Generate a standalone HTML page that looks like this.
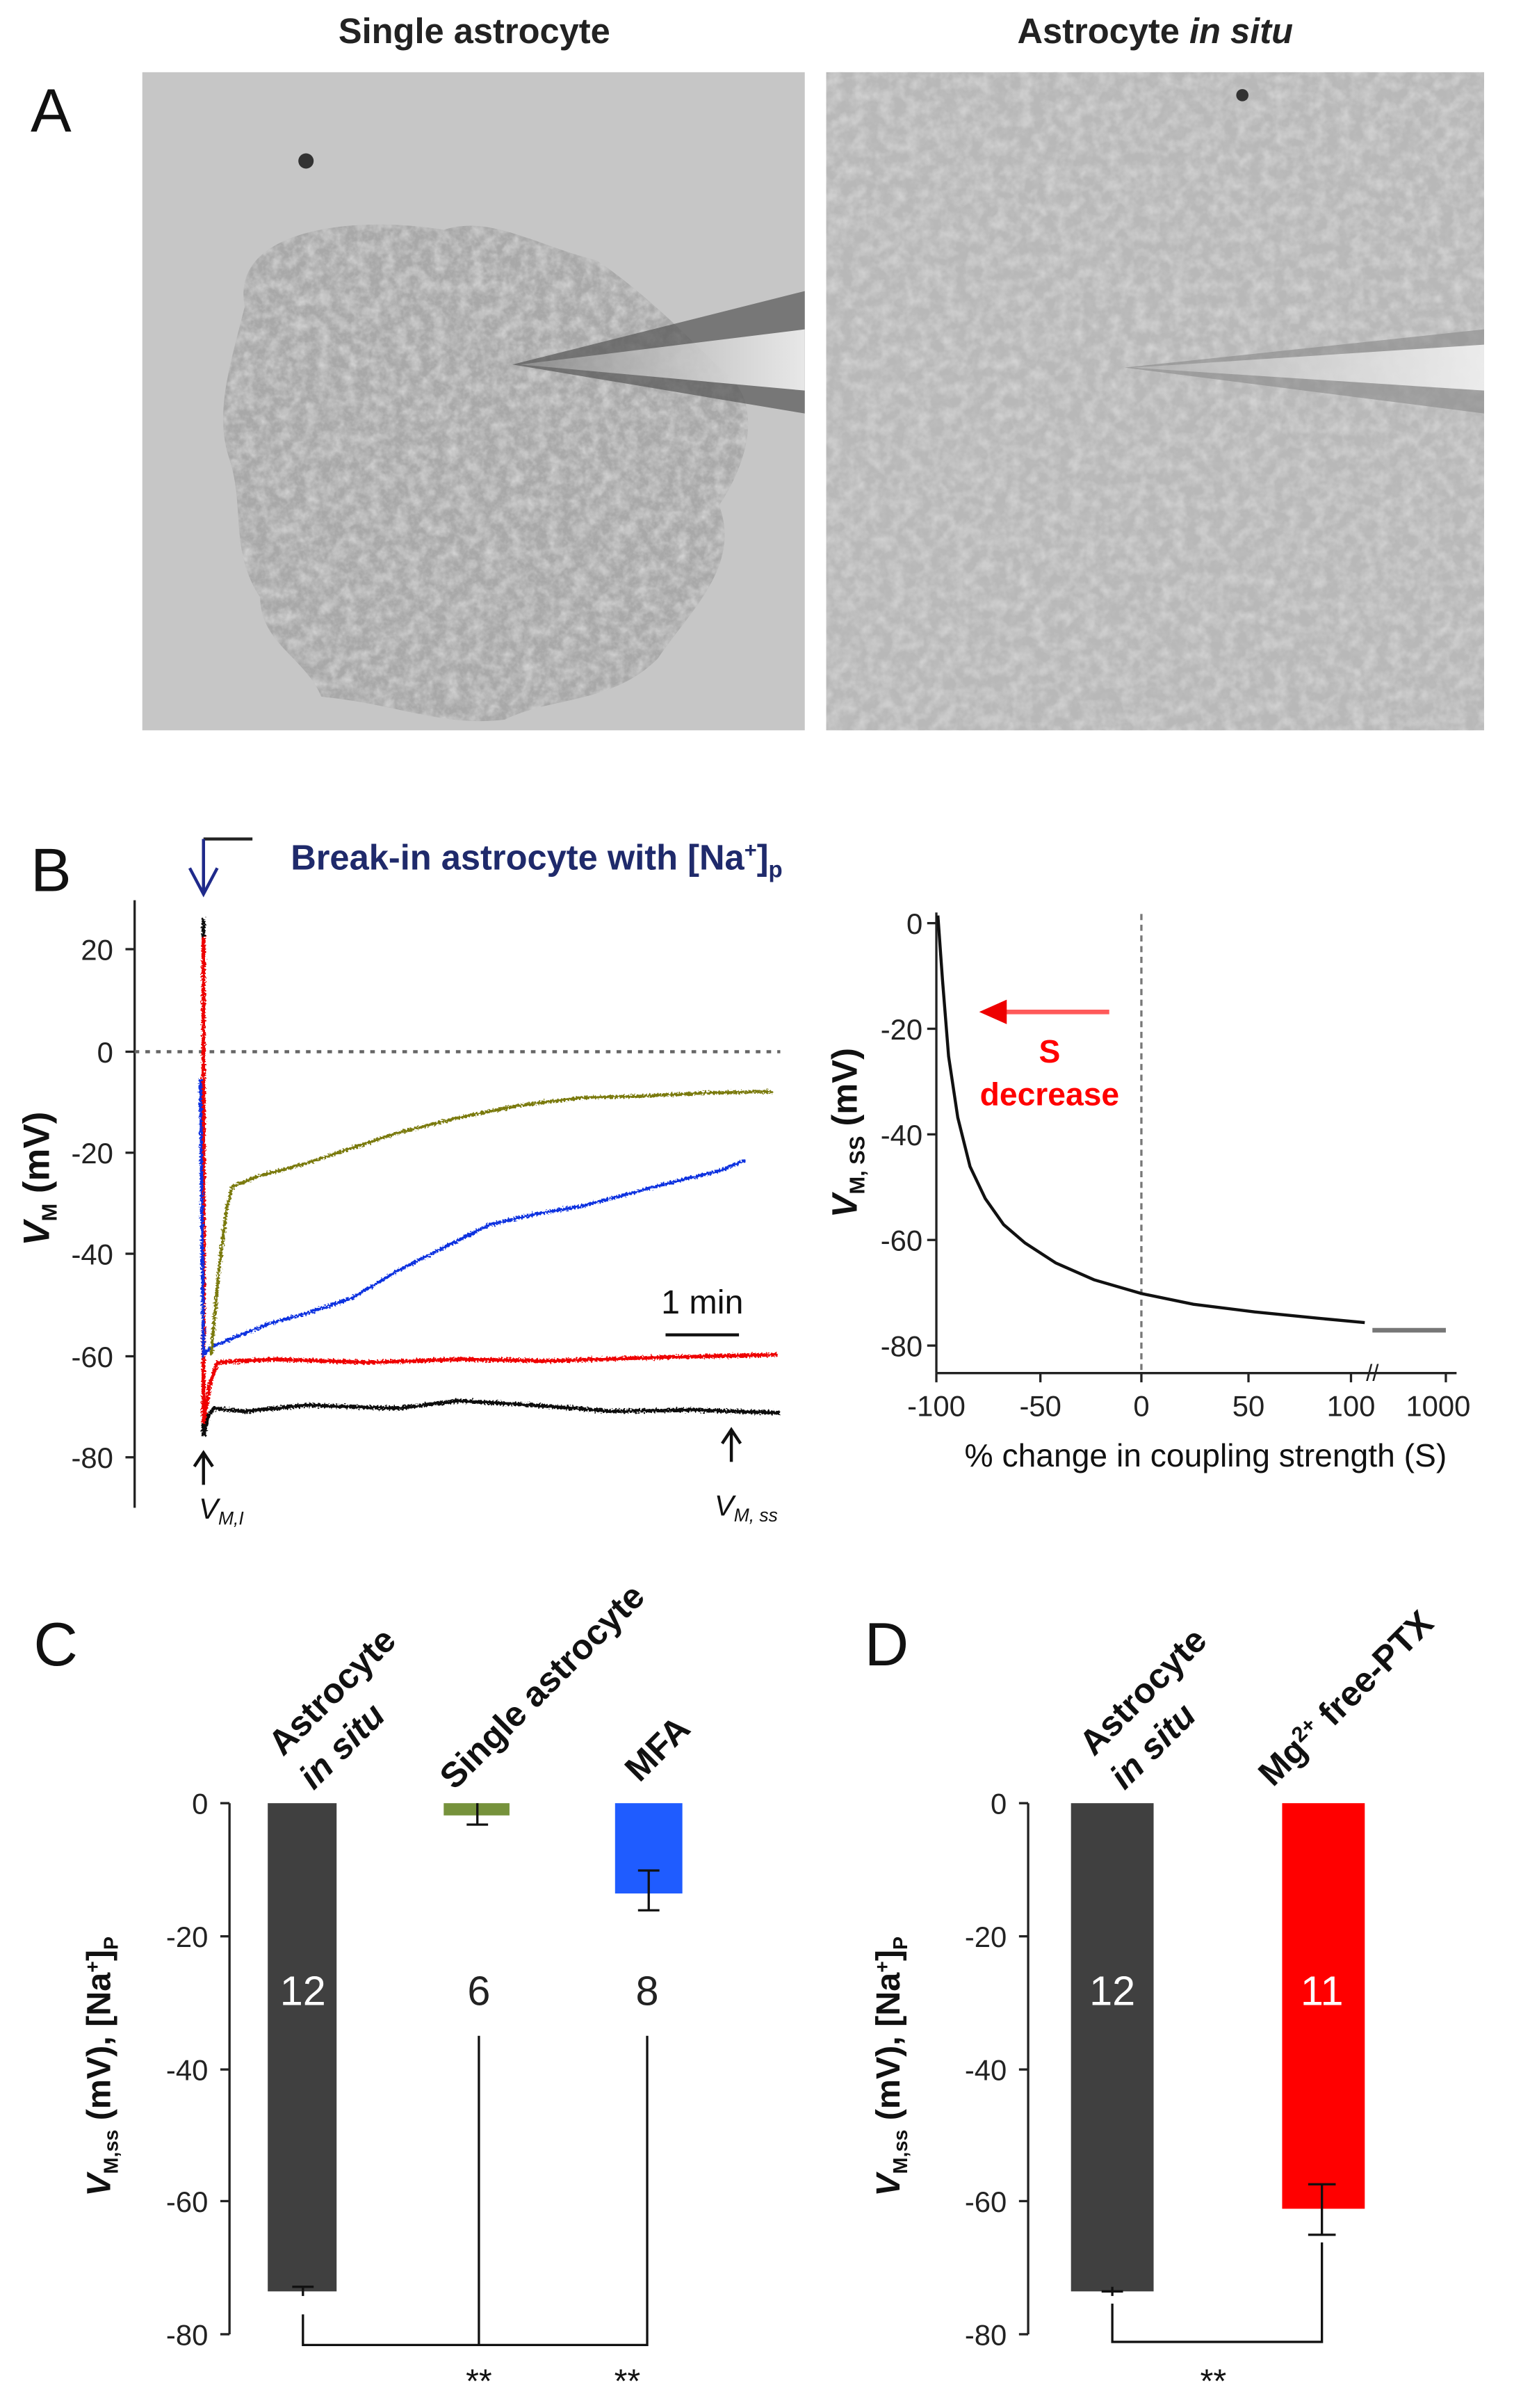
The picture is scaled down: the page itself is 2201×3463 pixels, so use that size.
<!DOCTYPE html>
<html><head><meta charset="utf-8"><style>
html,body{margin:0;padding:0;background:#fff;}
svg{display:block;}
text{font-family:"Liberation Sans",Arial,sans-serif;}
</style></head><body>
<svg width="2201" height="3463" viewBox="0 0 1000 1573" xmlns="http://www.w3.org/2000/svg">
<defs>
<filter id="tex1" x="0" y="0" width="100%" height="100%">
<feTurbulence type="fractalNoise" baseFrequency="0.35" numOctaves="2" seed="3"/>
<feColorMatrix type="matrix" values="0 0 0 0 0.5  0 0 0 0 0.5  0 0 0 0 0.5  0 0 0 -2 1.2"/>
</filter>
<filter id="tex2" x="0" y="0" width="100%" height="100%">
<feTurbulence type="fractalNoise" baseFrequency="0.12" numOctaves="3" seed="7"/>
<feColorMatrix type="matrix" values="0 0 0 0 0.95  0 0 0 0 0.95  0 0 0 0 0.95  0 0 0 1.4 -0.5"/>
</filter>
<filter id="tex3" x="0" y="0" width="100%" height="100%">
<feTurbulence type="fractalNoise" baseFrequency="0.2" numOctaves="2" seed="11"/>
<feColorMatrix type="matrix" values="0 0 0 0 0.55  0 0 0 0 0.55  0 0 0 0 0.55  0 0 0 -1.6 0.9"/>
</filter>
<filter id="jit" x="-5%" y="-5%" width="110%" height="110%">
<feTurbulence type="fractalNoise" baseFrequency="0.9 0.9" numOctaves="1" seed="5" result="n"/>
<feDisplacementMap in="SourceGraphic" in2="n" scale="4" xChannelSelector="R" yChannelSelector="G"/>
</filter>
<linearGradient id="pip" x1="0" y1="0" x2="1" y2="0">
<stop offset="0" stop-color="#fff" stop-opacity="0.2"/><stop offset="1" stop-color="#f4f4f4" stop-opacity="0.9"/></linearGradient>
<clipPath id="c1"><path d="M160,200 C150,150 230,140 290,150 C320,140 350,160 390,170 C420,190 450,220 470,240 C500,260 490,300 470,330 C485,370 450,400 430,430 C400,460 360,455 330,470 C290,475 260,460 210,455 C200,430 170,420 170,390 C150,360 160,330 150,300 C140,270 150,240 160,200Z"/></clipPath>
</defs>
<rect width="1000" height="1573" fill="#fff"/>
<!-- Panel A -->
<text x="310" y="28" font-size="23" font-weight="bold" text-anchor="middle" fill="#222">Single astrocyte</text>
<text x="755" y="28" font-size="23" font-weight="bold" text-anchor="middle" fill="#222">Astrocyte <tspan font-style="italic">in situ</tspan></text>
<text x="20" y="86" font-size="40" fill="#111">A</text>
<rect x="93" y="47" width="433" height="430" fill="#c6c6c6"/>
<g clip-path="url(#c1)"><rect x="93" y="47" width="433" height="430" fill="#a8a8a8"/><rect x="93" y="47" width="433" height="430" filter="url(#tex1)" opacity="0.8"/><rect x="93" y="47" width="433" height="430" filter="url(#tex2)" opacity="0.6"/></g>
<polygon points="335,238 526,190 526,270" fill="#555" opacity="0.7"/>
<polygon points="340,238 526,215 526,255" fill="url(#pip)"/>
<circle cx="200" cy="105" r="5" fill="#333"/>
<rect x="540" y="47" width="430" height="430" fill="#b8b8b8"/>
<rect x="540" y="47" width="430" height="430" filter="url(#tex3)" opacity="0.7"/>
<rect x="540" y="47" width="430" height="430" filter="url(#tex2)" opacity="0.5"/>
<polygon points="735,240 970,215 970,270" fill="#888" opacity="0.6"/>
<polygon points="740,240 970,225 970,255" fill="url(#pip)"/>
<circle cx="812" cy="62" r="4" fill="#333"/>
<!-- Panel B -->
<text x="20" y="582" font-size="40" fill="#111">B</text>
<g stroke="#222" stroke-width="2" fill="none">
<path d="M133,548 L165,548"/><path d="M133,548 L133,582"/>
</g>
<path d="M124,567 L133,584 L142,567" stroke="#1f2a8b" stroke-width="2" fill="none"/>
<path d="M133,548 L133,584" stroke="#1f2a8b" stroke-width="2"/>
<text x="190" y="568" font-size="23" font-weight="bold" fill="#1f2a6b">Break-in astrocyte with [Na<tspan font-size="14" dy="-8">+</tspan><tspan dy="8">]</tspan><tspan font-size="15" dy="5">p</tspan></text>
<g stroke="#222" stroke-width="1.5">
<line x1="88" y1="588" x2="88" y2="985"/>
<line x1="82" y1="620" x2="88" y2="620"/><line x1="82" y1="687" x2="88" y2="687"/><line x1="82" y1="753" x2="88" y2="753"/><line x1="82" y1="819" x2="88" y2="819"/><line x1="82" y1="886" x2="88" y2="886"/><line x1="82" y1="952" x2="88" y2="952"/>
</g>
<g font-size="19" text-anchor="end" fill="#222">
<text x="74" y="627">20</text><text x="74" y="694">0</text><text x="74" y="760">-20</text><text x="74" y="826">-40</text><text x="74" y="893">-60</text><text x="74" y="959">-80</text></g>
<text transform="translate(32,770) rotate(-90)" font-size="24" font-weight="bold" text-anchor="middle" fill="#111"><tspan font-style="italic">V</tspan><tspan font-size="14" dy="5">M</tspan><tspan dy="-5"> (mV)</tspan></text>
<line x1="88" y1="687" x2="510" y2="687" stroke="#666" stroke-width="2" stroke-dasharray="3,4"/>
<g filter="url(#jit)">
<polyline fill="none" stroke="#111" stroke-width="2.5" points="133,600 133,938 136,925 140,920 160,922 200,918 260,920 300,915 350,918 400,922 450,921 510,923"/>
<polyline fill="none" stroke="#e00" stroke-width="2.5" points="133,612 133,930 137,905 142,890 180,888 240,890 300,888 360,889 420,887 508,885"/>
<polyline fill="none" stroke="#1030e0" stroke-width="2" points="131,705 133,885 138,880 150,875 175,865 200,858 230,848 260,830 290,815 320,800 350,793 380,788 410,780 440,772 470,765 487,758"/>
<polyline fill="none" stroke="#7a7a10" stroke-width="2" points="138,885 143,830 148,790 152,775 170,768 200,760 230,750 260,740 300,730 340,722 380,717 420,716 460,714 505,713"/>
</g>
<line x1="435" y1="872" x2="483" y2="872" stroke="#111" stroke-width="2"/>
<text x="459" y="858" font-size="22" text-anchor="middle" fill="#111">1 min</text>
<g stroke="#111" stroke-width="2" fill="none">
<line x1="133" y1="950" x2="133" y2="970"/><path d="M127,958 L133,949 L139,958"/>
<line x1="478" y1="935" x2="478" y2="955"/><path d="M472,943 L478,934 L484,943"/></g>
<text x="130" y="992" font-size="19" font-style="italic" fill="#111">V<tspan font-size="12" dy="4">M,I</tspan></text>
<text x="467" y="990" font-size="19" font-style="italic" fill="#111">V<tspan font-size="12" dy="4">M, ss</tspan></text>
<!-- right plot B -->
<g stroke="#222" stroke-width="1.5">
<line x1="612" y1="596" x2="612" y2="897"/><line x1="612" y1="897" x2="952" y2="897"/>
<line x1="606" y1="603" x2="612" y2="603"/><line x1="606" y1="672" x2="612" y2="672"/><line x1="606" y1="741" x2="612" y2="741"/><line x1="606" y1="810" x2="612" y2="810"/><line x1="606" y1="879" x2="612" y2="879"/>
<line x1="612" y1="897" x2="612" y2="903"/><line x1="680" y1="897" x2="680" y2="903"/><line x1="746" y1="897" x2="746" y2="903"/><line x1="816" y1="897" x2="816" y2="903"/><line x1="883" y1="897" x2="883" y2="903"/><line x1="945" y1="897" x2="945" y2="903"/>
</g>
<g font-size="19" text-anchor="end" fill="#222">
<text x="603" y="610">0</text><text x="603" y="679">-20</text><text x="603" y="748">-40</text><text x="603" y="817">-60</text><text x="603" y="886">-80</text></g>
<g font-size="19" text-anchor="middle" fill="#222">
<text x="612" y="925">-100</text><text x="680" y="925">-50</text><text x="746" y="925">0</text><text x="816" y="925">50</text><text x="883" y="925">100</text><text x="940" y="925">1000</text></g>
<text x="897" y="902" font-size="15" fill="#222" text-anchor="middle">//</text>
<text transform="translate(560,740) rotate(-90)" font-size="23" font-weight="bold" text-anchor="middle" fill="#111"><tspan font-style="italic">V</tspan><tspan font-size="14" dy="5">M, SS</tspan><tspan dy="-5"> (mV)</tspan></text>
<text x="788" y="958" font-size="21" text-anchor="middle" fill="#111">% change in coupling strength (S)</text>
<line x1="746" y1="597" x2="746" y2="897" stroke="#777" stroke-width="1.5" stroke-dasharray="4,3"/>
<polyline fill="none" stroke="#111" stroke-width="2" points="613,598 616,640 620,690 626,730 634,762 644,783 656,800 670,812 690,825 715,836 746,845 780,852 820,857 860,861 892,864"/>
<line x1="897" y1="869" x2="945" y2="869" stroke="#777" stroke-width="3"/>
<line x1="725" y1="661" x2="655" y2="661" stroke="#ff5a5a" stroke-width="3"/>
<polygon points="640,661 658,653 658,669" fill="#e00"/>
<text x="686" y="694" font-size="21" font-weight="bold" fill="#f00" text-anchor="middle">S</text>
<text x="686" y="722" font-size="21" font-weight="bold" fill="#f00" text-anchor="middle">decrease</text>
<!-- Panel C -->
<text x="22" y="1088" font-size="40" fill="#111">C</text>
<g stroke="#222" stroke-width="1.5">
<line x1="150" y1="1178" x2="150" y2="1525"/>
<line x1="144" y1="1178" x2="150" y2="1178"/><line x1="144" y1="1265" x2="150" y2="1265"/><line x1="144" y1="1352" x2="150" y2="1352"/><line x1="144" y1="1438" x2="150" y2="1438"/><line x1="144" y1="1525" x2="150" y2="1525"/></g>
<g font-size="19" text-anchor="end" fill="#222">
<text x="136" y="1185">0</text><text x="136" y="1272">-20</text><text x="136" y="1359">-40</text><text x="136" y="1445">-60</text><text x="136" y="1532">-80</text></g>
<text transform="translate(72,1350) rotate(-90)" font-size="22" font-weight="bold" text-anchor="middle" fill="#111"><tspan font-style="italic">V</tspan><tspan font-size="13" dy="5">M,ss</tspan><tspan dy="-5"> (mV), [Na</tspan><tspan font-size="13" dy="-7">+</tspan><tspan dy="7">]</tspan><tspan font-size="13" dy="5">P</tspan></text>
<rect x="175" y="1178" width="45" height="319" fill="#404040"/>
<g stroke="#111" stroke-width="1.5"><line x1="198" y1="1494" x2="198" y2="1500"/><line x1="191" y1="1494" x2="205" y2="1494"/></g>
<rect x="290" y="1178" width="43" height="8" fill="#76923c"/>
<g stroke="#111" stroke-width="1.5"><line x1="312" y1="1178" x2="312" y2="1192"/><line x1="305" y1="1192" x2="319" y2="1192"/></g>
<rect x="402" y="1178" width="44" height="59" fill="#1f5cff"/>
<g stroke="#111" stroke-width="1.5"><line x1="424" y1="1222" x2="424" y2="1248"/><line x1="417" y1="1222" x2="431" y2="1222"/><line x1="417" y1="1248" x2="431" y2="1248"/></g>
<text x="198" y="1310" font-size="27" fill="#fff" text-anchor="middle">12</text>
<text x="313" y="1310" font-size="27" fill="#222" text-anchor="middle">6</text>
<text x="423" y="1310" font-size="27" fill="#222" text-anchor="middle">8</text>
<g stroke="#111" stroke-width="1.5" fill="none">
<polyline points="198,1512 198,1532 423,1532 423,1330"/><line x1="313" y1="1330" x2="313" y2="1532"/></g>
<text x="313" y="1563" font-size="22" text-anchor="middle" fill="#111">**</text>
<text x="410" y="1563" font-size="22" text-anchor="middle" fill="#111">**</text>
<g font-size="23" font-weight="bold" fill="#111">
<text transform="translate(185,1148) rotate(-45)">Astrocyte</text>
<text transform="translate(205,1170) rotate(-45)" font-style="italic">in situ</text>
<text transform="translate(297,1170) rotate(-45)">Single astrocyte</text>
<text transform="translate(418,1165) rotate(-45)">MFA</text></g>
<!-- Panel D -->
<text x="565" y="1088" font-size="40" fill="#111">D</text>
<g stroke="#222" stroke-width="1.5">
<line x1="672" y1="1178" x2="672" y2="1525"/>
<line x1="666" y1="1178" x2="672" y2="1178"/><line x1="666" y1="1265" x2="672" y2="1265"/><line x1="666" y1="1352" x2="672" y2="1352"/><line x1="666" y1="1438" x2="672" y2="1438"/><line x1="666" y1="1525" x2="672" y2="1525"/></g>
<g font-size="19" text-anchor="end" fill="#222">
<text x="658" y="1185">0</text><text x="658" y="1272">-20</text><text x="658" y="1359">-40</text><text x="658" y="1445">-60</text><text x="658" y="1532">-80</text></g>
<text transform="translate(588,1350) rotate(-90)" font-size="22" font-weight="bold" text-anchor="middle" fill="#111"><tspan font-style="italic">V</tspan><tspan font-size="13" dy="5">M,ss</tspan><tspan dy="-5"> (mV), [Na</tspan><tspan font-size="13" dy="-7">+</tspan><tspan dy="7">]</tspan><tspan font-size="13" dy="5">P</tspan></text>
<rect x="700" y="1178" width="54" height="319" fill="#404040"/>
<g stroke="#111" stroke-width="1.5"><line x1="727" y1="1494" x2="727" y2="1500"/><line x1="720" y1="1497" x2="734" y2="1497"/></g>
<rect x="838" y="1178" width="54" height="265" fill="#f00"/>
<g stroke="#111" stroke-width="1.5"><line x1="864" y1="1427" x2="864" y2="1460"/><line x1="855" y1="1427" x2="873" y2="1427"/><line x1="855" y1="1460" x2="873" y2="1460"/></g>
<text x="727" y="1310" font-size="27" fill="#fff" text-anchor="middle">12</text>
<text x="864" y="1310" font-size="27" fill="#fff" text-anchor="middle">11</text>
<polyline points="727,1505 727,1530 864,1530 864,1465" stroke="#111" stroke-width="1.5" fill="none"/>
<text x="793" y="1563" font-size="22" text-anchor="middle" fill="#111">**</text>
<g font-size="23" font-weight="bold" fill="#111">
<text transform="translate(715,1148) rotate(-45)">Astrocyte</text>
<text transform="translate(735,1170) rotate(-45)" font-style="italic">in situ</text>
<text transform="translate(832,1168) rotate(-45)">Mg<tspan font-size="14" dy="-8">2+</tspan><tspan dy="8"> free-PTX</tspan></text></g>
</svg>
</body></html>
